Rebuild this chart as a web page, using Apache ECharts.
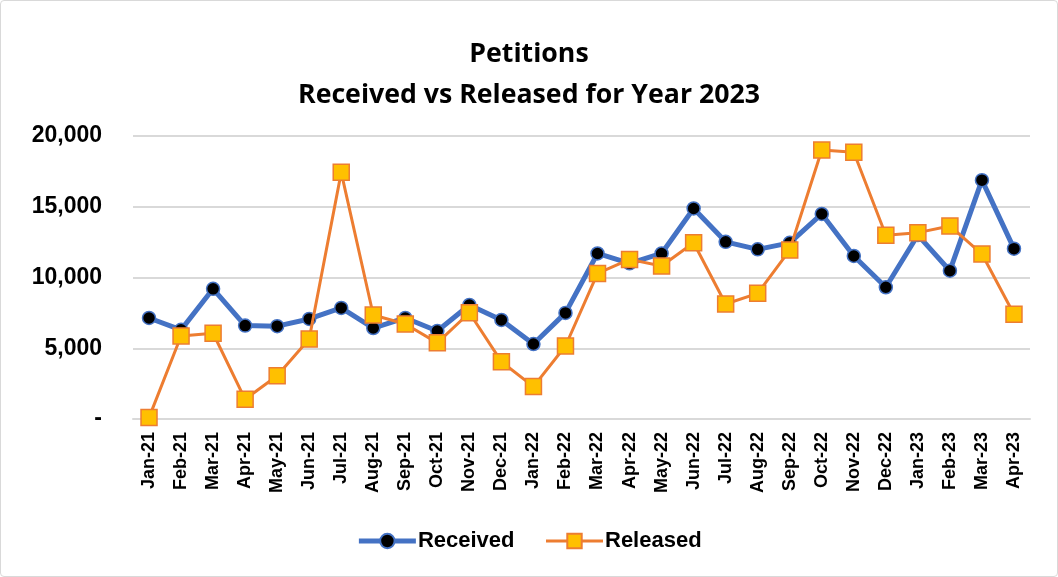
<!DOCTYPE html>
<html>
<head>
<meta charset="utf-8">
<script src="https://cdn.jsdelivr.net/npm/echarts@6/dist/echarts.min.js"></script>
<style>
html,body{margin:0;padding:0;background:#fff;}
#wrap{position:absolute;left:0;top:0;width:1056px;height:575px;border:1px solid #d9d9d9;border-radius:4px;}
#chart{position:absolute;left:0;top:0;width:1058px;height:577px;}
</style>
</head>
<body>
<div id="wrap"></div>
<div id="chart"></div>
<script>
const categories = ["Jan-21","Feb-21","Mar-21","Apr-21","May-21","Jun-21","Jul-21","Aug-21","Sep-21","Oct-21","Nov-21","Dec-21","Jan-22","Feb-22","Mar-22","Apr-22","May-22","Jun-22","Jul-22","Aug-22","Sep-22","Oct-22","Nov-22","Dec-22","Jan-23","Feb-23","Mar-23","Apr-23"];
const received = [7140,6300,9200,6600,6560,7070,7850,6430,7140,6220,8060,7000,5300,7500,11700,11000,11700,14880,12520,11990,12450,14490,11520,9310,13000,10480,16880,12040];
const released = [100,5870,6060,1390,3060,5650,17430,7350,6710,5380,7510,4050,2290,5160,10290,11280,10810,12460,8130,8880,11940,19010,18850,12980,13170,13640,11660,7400];
const titleLines = ["Petitions", "Received vs Released for Year 2023"];
const yTicks = {min: 0, max: 20000, interval: 5000};

const chart = echarts.init(document.getElementById('chart'));
const fam = '"Liberation Sans", Arial, sans-serif';
const titleFam = '"Open Sans", "Liberation Sans", sans-serif';
chart.setOption({
  animation: false,
  title: {
    text: titleLines.join('\n'),
    left: 'center',
    top: 29,
    textStyle: {fontFamily: titleFam, fontWeight: 'bold', fontSize: 26.7, color: '#000', lineHeight: 41}
  },
  legend: {
    bottom: 20,
    left: 'center',
    itemWidth: 57,
    itemHeight: 18,
    itemGap: 30,
    textStyle: {fontFamily: fam, fontWeight: 'bold', fontSize: 22, color: '#000', padding: [0, 0, 0, -3]},
    data: [
      {name: 'Received', lineStyle: {width: 5, color: '#4472C4'}},
      {name: 'Released', lineStyle: {width: 3, color: '#ED7D31'}}
    ]
  },
  grid: {left: 133, right: 28, top: 136, bottom: 158},
  xAxis: {
    type: 'category',
    data: categories,
    boundaryGap: true,
    axisLine: {show: true, lineStyle: {color: '#d9d9d9', width: 2}},
    axisTick: {show: false},
    axisLabel: {rotate: 90, fontFamily: fam, fontWeight: 'bold', fontSize: 18, color: '#000', margin: 13, interval: 0}
  },
  yAxis: {
    type: 'value',
    min: yTicks.min, max: yTicks.max, interval: yTicks.interval,
    axisLine: {show: false},
    axisTick: {show: false},
    splitLine: {lineStyle: {color: '#d9d9d9', width: 2}},
    axisLabel: {
      fontFamily: fam, fontWeight: 'bold', fontSize: 23, color: '#000', margin: 31,
      formatter: v => v === 0 ? '-' : v.toLocaleString('en-US')
    }
  },
  series: [
    {
      name: 'Received', type: 'line', data: received,
      symbol: 'circle', symbolSize: 13,
      lineStyle: {color: '#4472C4', width: 5},
      itemStyle: {color: '#000', borderColor: '#4472C4', borderWidth: 1.5},
      z: 2
    },
    {
      name: 'Released', type: 'line', data: released,
      symbol: 'rect', symbolSize: 16,
      lineStyle: {color: '#ED7D31', width: 3},
      itemStyle: {color: '#FFC000', borderColor: '#ED7D31', borderWidth: 1.5},
      z: 3
    }
  ]
});
</script>
</body>
</html>
